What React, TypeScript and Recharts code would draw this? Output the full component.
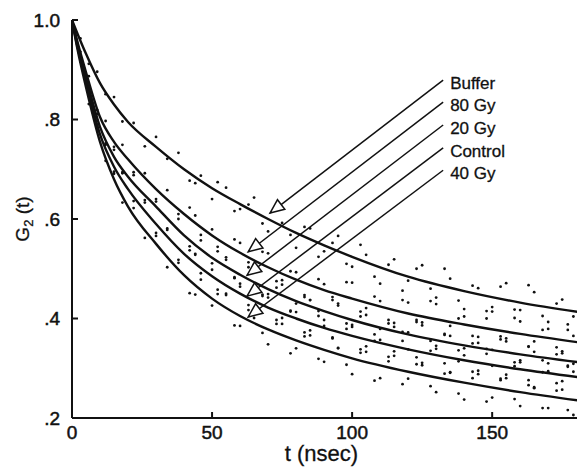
import { ComposedChart, Line, Scatter, XAxis, YAxis, ReferenceLine, ReferenceDot, Label } from "recharts"

// fitted curves
const curveT = [0, 2, 5, 10, 15, 20, 30, 40, 50, 60, 70, 80, 90, 100, 120, 140, 160, 181]
const bufferFit = [1, 0.972, 0.932, 0.873, 0.83, 0.795, 0.745, 0.7, 0.662, 0.63, 0.6, 0.572, 0.547, 0.524, 0.484, 0.455, 0.432, 0.413]
const gy80Fit = [1, 0.955, 0.895, 0.805, 0.755, 0.72, 0.66, 0.61, 0.567, 0.532, 0.503, 0.478, 0.457, 0.44, 0.41, 0.388, 0.369, 0.352]
const gy20Fit = [1, 0.95, 0.885, 0.785, 0.725, 0.685, 0.625, 0.567, 0.522, 0.488, 0.459, 0.435, 0.415, 0.397, 0.368, 0.346, 0.328, 0.312]
const controlFit = [1, 0.945, 0.875, 0.77, 0.705, 0.66, 0.59, 0.53, 0.485, 0.45, 0.422, 0.4, 0.381, 0.365, 0.338, 0.316, 0.298, 0.282]
const gy40Fit = [1, 0.94, 0.865, 0.755, 0.68, 0.625, 0.55, 0.487, 0.44, 0.405, 0.378, 0.356, 0.337, 0.32, 0.293, 0.271, 0.252, 0.235]

// measured points
const dotT = [3, 6, 9, 12, 15, 18, 22, 26, 30, 34, 38, 42, 46, 50, 55, 60, 65, 70, 75, 80, 85, 90, 95, 100, 105, 110, 115, 120, 125, 130, 135, 140, 145, 150, 155, 160, 165, 170, 175, 179,
  44, 52, 58, 63, 68, 73, 78, 83, 88, 93, 98, 103, 108, 113, 118, 123, 128, 133, 138, 143, 148, 153, 158, 163, 168, 173, 177]
const bufferDots = [0.963, 0.912, 0.896, 0.851, 0.845, 0.796, 0.793, 0.746, 0.765, 0.721, 0.733, 0.677, 0.687, 0.64, 0.663, 0.62, 0.643, 0.575, 0.592, 0.542, 0.581, 0.535, 0.566, 0.504, 0.528, 0.47, 0.519, 0.476, 0.507, 0.442, 0.48, 0.419, 0.461, 0.423, 0.471, 0.417, 0.453, 0.393, 0.438, 0.404,
  0.672, 0.674, 0.616, 0.629, 0.591, 0.618, 0.568, 0.584, 0.524, 0.552, 0.51, 0.548, 0.484, 0.508, 0.456, 0.5, 0.46, 0.5, 0.436, 0.466, 0.415, 0.464, 0.418, 0.467, 0.405, 0.43, 0.388]
const gy80Dots = [0.929, 0.887, 0.819, 0.797, 0.745, 0.749, 0.694, 0.692, 0.64, 0.658, 0.61, 0.623, 0.568, 0.579, 0.523, 0.552, 0.509, 0.531, 0.468, 0.493, 0.437, 0.469, 0.43, 0.472, 0.407, 0.435, 0.383, 0.432, 0.392, 0.429, 0.365, 0.404, 0.363, 0.414, 0.36, 0.394, 0.333, 0.379, 0.334, 0.365,
  0.607, 0.544, 0.559, 0.513, 0.534, 0.475, 0.495, 0.443, 0.479, 0.443, 0.473, 0.414, 0.444, 0.39, 0.437, 0.393, 0.435, 0.369, 0.4, 0.35, 0.4, 0.358, 0.401, 0.343, 0.377, 0.328, 0.377]
const gy20Dots = [0.936, 0.855, 0.811, 0.749, 0.739, 0.692, 0.688, 0.633, 0.635, 0.581, 0.6, 0.545, 0.557, 0.498, 0.518, 0.47, 0.499, 0.449, 0.477, 0.413, 0.437, 0.385, 0.426, 0.383, 0.421, 0.357, 0.391, 0.338, 0.386, 0.345, 0.385, 0.326, 0.351, 0.305, 0.354, 0.312, 0.354, 0.294, 0.33, 0.293,
  0.53, 0.535, 0.483, 0.503, 0.445, 0.462, 0.414, 0.447, 0.405, 0.437, 0.379, 0.404, 0.355, 0.397, 0.355, 0.397, 0.335, 0.367, 0.314, 0.365, 0.329, 0.364, 0.304, 0.344, 0.292, 0.342, 0.303]
const controlDots = [0.916, 0.866, 0.781, 0.752, 0.691, 0.694, 0.636, 0.638, 0.572, 0.578, 0.518, 0.537, 0.491, 0.511, 0.447, 0.464, 0.408, 0.442, 0.401, 0.43, 0.366, 0.397, 0.341, 0.387, 0.344, 0.379, 0.325, 0.372, 0.306, 0.339, 0.291, 0.34, 0.295, 0.337, 0.28, 0.316, 0.26, 0.31, 0.274, 0.309,
  0.528, 0.458, 0.481, 0.427, 0.448, 0.389, 0.416, 0.372, 0.415, 0.36, 0.39, 0.331, 0.368, 0.323, 0.373, 0.322, 0.355, 0.289, 0.336, 0.293, 0.339, 0.276, 0.312, 0.266, 0.316, 0.27, 0.305]
const gy40Dots = [0.921, 0.831, 0.787, 0.717, 0.695, 0.633, 0.622, 0.562, 0.566, 0.503, 0.512, 0.451, 0.478, 0.426, 0.45, 0.385, 0.401, 0.348, 0.389, 0.34, 0.376, 0.313, 0.34, 0.288, 0.333, 0.28, 0.334, 0.279, 0.311, 0.252, 0.292, 0.237, 0.288, 0.241, 0.287, 0.224, 0.262, 0.22, 0.257, 0.206,
  0.448, 0.449, 0.386, 0.417, 0.371, 0.397, 0.33, 0.364, 0.319, 0.362, 0.307, 0.338, 0.275, 0.314, 0.268, 0.308, 0.264, 0.31, 0.249, 0.28, 0.233, 0.279, 0.238, 0.276, 0.22, 0.255, 0.216]

// annotations
const seriesLabels = ["Buffer", "80 Gy", "20 Gy", "Control", "40 Gy"]
const labelT = 135
const arrowFromT = 132.5
const arrowFromV = [0.879, 0.835, 0.789, 0.743, 0.698]
const arrowTipT = [70.7, 62.9, 62.5, 62.5, 62.9]
const arrowTipV = [0.612, 0.534, 0.487, 0.445, 0.403]

const xTicks = [0, 50, 100, 150]
const yTicks = [0.2, 0.4, 0.6, 0.8, 1.0]
const yTickLabels = [".2", ".4", ".6", ".8", "1.0"]

const fits = [bufferFit, gy80Fit, gy20Fit, controlFit, gy40Fit].map((vals) => curveT.map((t, i) => ({ t, v: vals[i] })))
const dots = [bufferDots, gy80Dots, gy20Dots, controlDots, gy40Dots].map((vals) => dotT.map((t, i) => ({ t, v: vals[i] })))

const font = "'Liberation Sans', Arial, Helvetica, sans-serif"
const ink = "#111"

const Dot = (p: any) => <circle cx={p.cx} cy={p.cy} r={1.4} fill={ink} />

const ArrowHead = (p: any) => {
  const dx = -0.793
  const dy = 0.61
  const len = 14
  const half = 6
  const bx = p.cx - dx * len
  const by = p.cy - dy * len
  const pts = [
    [p.cx, p.cy],
    [bx + dy * half, by - dx * half],
    [bx - dy * half, by + dx * half],
  ]
  return <polygon points={pts.map((q) => q.join(",")).join(" ")} fill="#fff" stroke={ink} strokeWidth={1.5} strokeLinejoin="miter" />
}

const makeLabel = (text: string) => (p: any) => (
  <text x={p.cx} y={p.cy} dy={9} fontSize={17} fontFamily={font} fill={ink} stroke={ink} strokeWidth={0.3}>
    {text}
  </text>
)

const YTitle = (p: any) => {
  const vb = p.viewBox
  const x = 29
  const y = vb.y + vb.height / 2
  return (
    <text x={x} y={y} transform={`rotate(-90, ${x}, ${y})`} textAnchor="middle" fontSize={19} fontFamily={font} fill={ink} stroke={ink} strokeWidth={0.3}>
      G<tspan fontSize={13} dy={4}>2</tspan>
      <tspan dy={-4}> (t)</tspan>
    </text>
  )
}

const XTitle = (p: any) => {
  const vb = p.viewBox
  return (
    <text x={vb.x + vb.width / 2 - 4} y={vb.y + 43} textAnchor="middle" fontSize={22} fontFamily={font} fill={ink} stroke={ink} strokeWidth={0.3}>
      t (nsec)
    </text>
  )
}

export default function App() {
  const tickStyle = { fontSize: 19, fill: ink, fontFamily: font, stroke: ink, strokeWidth: 0.5 }
  return (
    <div style={{ position: "absolute", left: 0, top: 0, width: 577, height: 473, overflow: "hidden", background: "#fff" }}>
      <ComposedChart width={579} height={473} margin={{ top: 20, right: 0, bottom: 0, left: 0 }}>
        <XAxis
          dataKey="t"
          type="number"
          domain={[0, 181]}
          ticks={xTicks}
          allowDataOverflow
          height={55}
          tickSize={-6}
          tickMargin={14}
          tick={tickStyle}
          tickLine={{ stroke: ink, strokeWidth: 2 }}
          axisLine={{ stroke: ink, strokeWidth: 2 }}
        >
          <Label content={XTitle} />
        </XAxis>
        <XAxis
          xAxisId="top"
          orientation="top"
          dataKey="t"
          type="number"
          domain={[0, 181]}
          ticks={xTicks}
          height={0}
          tickSize={-6}
          tick={false}
          tickLine={{ stroke: ink, strokeWidth: 2 }}
          axisLine={{ stroke: ink, strokeWidth: 2 }}
        />
        <YAxis
          dataKey="v"
          type="number"
          domain={[0.2, 1]}
          ticks={yTicks}
          allowDataOverflow
          width={72}
          tickSize={-6}
          tickMargin={18}
          tick={tickStyle}
          tickFormatter={(v: number) => yTickLabels[yTicks.indexOf(v)] ?? String(v)}
          tickLine={{ stroke: ink, strokeWidth: 2 }}
          axisLine={{ stroke: ink, strokeWidth: 2 }}
        >
          <Label content={YTitle} />
        </YAxis>
        <YAxis
          yAxisId="right"
          orientation="right"
          type="number"
          domain={[0.2, 1]}
          ticks={yTicks}
          width={0}
          tickSize={-6}
          tick={false}
          tickLine={{ stroke: ink, strokeWidth: 2 }}
          axisLine={{ stroke: ink, strokeWidth: 2 }}
        />
        {dots.map((d, i) => (
          <Scatter key={"s" + i} data={d} dataKey="v" shape={Dot} isAnimationActive={false} />
        ))}
        {fits.map((d, i) => (
          <Line
            key={"l" + i}
            data={d}
            dataKey="v"
            type="monotone"
            stroke={ink}
            strokeWidth={2.4}
            dot={false}
            activeDot={false}
            isAnimationActive={false}
          />
        ))}
        {seriesLabels.map((_, i) => (
          <ReferenceLine
            key={"a" + i}
            segment={[
              { x: arrowFromT, y: arrowFromV[i] },
              { x: arrowTipT[i], y: arrowTipV[i] },
            ]}
            stroke={ink}
            strokeWidth={1.5}
          />
        ))}
        {seriesLabels.map((_, i) => (
          <ReferenceDot key={"h" + i} x={arrowTipT[i]} y={arrowTipV[i]} shape={ArrowHead} />
        ))}
        {seriesLabels.map((name, i) => (
          <ReferenceDot key={"t" + i} x={labelT} y={arrowFromV[i]} shape={makeLabel(name)} />
        ))}
      </ComposedChart>
    </div>
  )
}
